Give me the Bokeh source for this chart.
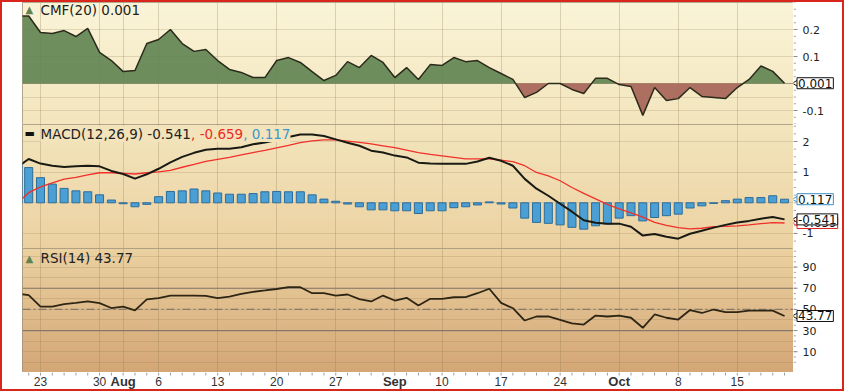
import numpy as np
from bokeh.plotting import figure
from bokeh.layouts import column, row
from bokeh.models import Range1d, FixedTicker, Label, Span, ColumnDataSource
from bokeh.core.properties import value
from bokeh.embed import file_html
from bokeh.resources import INLINE

# ---------------- data ----------------
dates = [
    "2018-07-19", "2018-07-20",
    "2018-07-23", "2018-07-24", "2018-07-25", "2018-07-26", "2018-07-27",
    "2018-07-30", "2018-07-31", "2018-08-01", "2018-08-02", "2018-08-03",
    "2018-08-06", "2018-08-07", "2018-08-08", "2018-08-09", "2018-08-10",
    "2018-08-13", "2018-08-14", "2018-08-15", "2018-08-16", "2018-08-17",
    "2018-08-20", "2018-08-21", "2018-08-22", "2018-08-23", "2018-08-24",
    "2018-08-27", "2018-08-28", "2018-08-29", "2018-08-30", "2018-08-31",
    "2018-09-04", "2018-09-05", "2018-09-06", "2018-09-07",
    "2018-09-10", "2018-09-11", "2018-09-12", "2018-09-13", "2018-09-14",
    "2018-09-17", "2018-09-18", "2018-09-19", "2018-09-20", "2018-09-21",
    "2018-09-24", "2018-09-25", "2018-09-26", "2018-09-27", "2018-09-28",
    "2018-10-01", "2018-10-02", "2018-10-03", "2018-10-04", "2018-10-05",
    "2018-10-08", "2018-10-09", "2018-10-10", "2018-10-11", "2018-10-12",
    "2018-10-15", "2018-10-16", "2018-10-17", "2018-10-18", "2018-10-19",
]

cmf = [0.25, 0.25, 0.189, 0.185, 0.196, 0.174, 0.204, 0.115, 0.085, 0.044,
       0.048, 0.148, 0.163, 0.200, 0.148, 0.119, 0.126, 0.085, 0.052, 0.041,
       0.022, 0.022, 0.085, 0.096, 0.078, 0.044, 0.011, 0.030, 0.081, 0.059,
       0.104, 0.078, 0.022, 0.059, 0.015, 0.070, 0.067, 0.096, 0.081, 0.085,
       0.059, 0.037, 0.015, -0.052, -0.033, 0.000, 0.000, -0.022, -0.037, 0.019,
       0.019, -0.004, -0.011, -0.118, -0.015, -0.063, -0.056, -0.015, -0.048, -0.052,
       -0.056, -0.015, 0.015, 0.065, 0.045, 0.001]

macd = [1.15, 1.43, 1.28, 1.21, 1.17, 1.19, 1.21, 1.19, 1.04, 0.94,
        0.79, 0.93, 1.11, 1.32, 1.50, 1.63, 1.73, 1.76, 1.76, 1.81,
        1.91, 1.97, 2.05, 2.15, 2.23, 2.23, 2.18, 2.07, 1.96, 1.86,
        1.70, 1.64, 1.54, 1.48, 1.31, 1.28, 1.27, 1.27, 1.27, 1.35,
        1.47, 1.37, 1.21, 0.78, 0.46, 0.23, -0.03, -0.29, -0.57, -0.65,
        -0.68, -0.68, -0.78, -1.07, -1.02, -1.11, -1.17, -1.01, -0.91, -0.81,
        -0.72, -0.64, -0.59, -0.52, -0.46, -0.541]

signal = [-0.02, 0.33, 0.52, 0.65, 0.77, 0.83, 0.91, 0.98, 0.98, 0.96,
          0.94, 0.98, 1.01, 1.06, 1.16, 1.25, 1.35, 1.42, 1.48, 1.56,
          1.64, 1.71, 1.79, 1.87, 1.96, 2.02, 2.05, 2.05, 2.01, 1.97,
          1.92, 1.86, 1.80, 1.72, 1.64, 1.58, 1.53, 1.48, 1.43, 1.43,
          1.43, 1.39, 1.34, 1.21, 0.99, 0.88, 0.72, 0.50, 0.31, 0.13,
          -0.05, -0.20, -0.33, -0.47, -0.64, -0.74, -0.81, -0.85, -0.83, -0.78,
          -0.77, -0.75, -0.72, -0.68, -0.65, -0.659]

hist = [1.30, 1.15, 0.82, 0.61, 0.47, 0.39, 0.36, 0.26, 0.09, -0.03,
        -0.13, -0.05, 0.20, 0.37, 0.39, 0.45, 0.39, 0.32, 0.28, 0.28,
        0.30, 0.36, 0.37, 0.36, 0.36, 0.26, 0.12, 0.05, -0.04, -0.13,
        -0.23, -0.23, -0.26, -0.26, -0.35, -0.26, -0.26, -0.16, -0.13, -0.07,
        0.03, -0.04, -0.17, -0.50, -0.64, -0.67, -0.72, -0.80, -0.86, -0.75,
        -0.69, -0.50, -0.42, -0.59, -0.48, -0.42, -0.37, -0.17, -0.10, -0.02,
        0.07, 0.12, 0.17, 0.17, 0.23, 0.117]

rsi = [65.0, 63.5, 52.7, 52.7, 55.0, 56.2, 57.5, 55.9, 51.3, 52.7,
       49.0, 59.4, 60.7, 63.1, 63.1, 63.1, 62.7, 60.6, 62.0, 64.6,
       66.6, 67.9, 69.3, 71.0, 71.0, 65.3, 65.3, 63.1, 64.1, 59.8,
       57.5, 63.1, 58.4, 61.0, 53.7, 60.0, 60.0, 61.5, 61.7, 65.3,
       69.5, 56.2, 51.1, 39.5, 43.3, 43.3, 40.0, 36.7, 35.7, 44.2,
       43.3, 44.2, 42.1, 32.6, 45.2, 42.1, 40.4, 49.4, 46.6, 49.9,
       47.4, 47.4, 48.9, 48.9, 48.9, 43.77]

tick_dates = ["2018-07-23", "2018-07-30", "2018-08-01", "2018-08-06", "2018-08-13",
              "2018-08-20", "2018-08-27", "2018-09-04", "2018-09-10", "2018-09-17",
              "2018-09-24", "2018-10-01", "2018-10-08", "2018-10-15"]
tick_labels = ["23", "30", "Aug", "6", "13", "20", "27", "Sep", "10", "17",
               "24", "Oct", "8", "15"]
month_names = ["Aug", "Sep", "Oct"]

cmf_ticks = [-0.1, 0.1, 0.2]
macd_ticks = [-1, 1, 2]
rsi_ticks = [10, 30, 50, 70, 90]

cmf_title = "CMF(20) 0.001"
macd_title = ["MACD(12,26,9) -0.541", ", -0.659", ", 0.117"]
rsi_title = "RSI(14) 43.77"

# ---------------- geometry (pixels of the reference) ----------------
W = 840
BORDER = 2
FL, FR = 20, 49            # left margin, right axis strip width
DAY_PX = 11.81
X_ANCHOR_PX = 40.0         # pixel of 2018-07-23
ANCHOR_IDX = dates.index("2018-07-23")


def px2x(px):
    return ANCHOR_IDX + (px - X_ANCHOR_PX) / DAY_PX


x = np.arange(len(dates), dtype=float)
xr = Range1d(px2x(BORDER + FL), px2x(BORDER + W - FR))

H_CMF, H_MACD, H_RSI, H_STRIP = 122, 124, 124, 17
T_CMF = BORDER
T_MACD = T_CMF + H_CMF
T_RSI = T_MACD + H_MACD


def yrange(top, h, ref_px, ref_val, px_per_unit):
    end = ref_val + (ref_px - top) / px_per_unit
    start = ref_val - (top + h - ref_px) / px_per_unit
    return start, end


yr_cmf = yrange(T_CMF, H_CMF, 83.0, 0.0, 270.0)
yr_macd = yrange(T_MACD, H_MACD, 202.3, 0.0, 30.65)
yr_rsi = yrange(T_RSI, H_RSI, 308.9, 50.0, 1.0575)


def py(top, h, yr, px):
    return yr[1] - (px - top) / h * (yr[1] - yr[0])


# background gradient stops (absolute y px -> rgb)
stops_y = [2, 124, 248, 372]
stops_c = [(250, 244, 216), (243, 229, 189), (235, 209, 161), (212, 166, 118)]


def color_at(y):
    return tuple(int(round(np.interp(y, stops_y, [c[k] for c in stops_c]))) for k in range(3))


def hexc(c):
    return "#%02x%02x%02x" % c


def gradient(top, h):
    img = np.empty((h, 4), dtype=np.uint32)
    v = img.view(dtype=np.uint8).reshape((h, 4, 4))
    for r in range(h):
        c = color_at(top + h - 0.5 - r)
        v[r, :, 0] = c[0]
        v[r, :, 1] = c[1]
        v[r, :, 2] = c[2]
        v[r, :, 3] = 255
    return img


tick_x = [dates.index(d) for d in tick_dates]

GRID = "#8a7550"
FONT = "DejaVu Sans"


def panel(h, yr, top):
    p = figure(width=W - FR, height=h, x_range=xr, y_range=Range1d(*yr),
               output_backend="svg", toolbar_location=None,
               x_axis_location=None, y_axis_location=None,
               min_border_left=FL, min_border_right=0,
               min_border_top=0, min_border_bottom=0,
               border_fill_color="white", outline_line_color="#9c9078",
               outline_line_width=1)
    p.image_rgba(image=[gradient(top, h)], x=xr.start, y=yr[0],
                 dw=xr.end - xr.start, dh=yr[1] - yr[0], level="image")
    p.xgrid.ticker = FixedTicker(ticks=tick_x)
    p.xgrid.grid_line_color = GRID
    p.xgrid.grid_line_alpha = 0.28
    p.ygrid.grid_line_color = GRID
    p.ygrid.grid_line_alpha = 0.22
    return p


def axis_strip(h, yr, major, minor, boxes):
    """Right-hand value axis with the last-value call-out boxes."""
    r = figure(width=FR, height=h, x_range=Range1d(0, FR), y_range=Range1d(*yr),
               output_backend="svg", toolbar_location=None,
               x_axis_location=None, y_axis_location=None,
               min_border_left=0, min_border_right=0,
               min_border_top=0, min_border_bottom=0,
               border_fill_color="white", background_fill_color="white",
               outline_line_color=None)
    r.grid.visible = False
    r.segment(x0=0, y0=minor, x1=2.5, y1=minor, line_color="#a8a8a8", line_width=1)
    r.segment(x0=0, y0=major, x1=4, y1=major, line_color="#8c8c8c", line_width=1)
    r.text(x=9, y=major, text=[("%g" % t) for t in major], text_align="left",
           text_baseline="middle", text_font=value(FONT), text_font_size="11px",
           text_color="#222222")
    for yval, text, border in boxes:
        r.scatter(x=[4], y=[yval], marker="triangle", angle=np.pi / 2, size=9,
                  fill_color="white", line_color=border, line_width=1)
        r.add_layout(Label(x=3.5, y=yval, text=text,
                           text_font=FONT, text_font_size="12px", text_color="#111111",
                           text_baseline="middle", text_align="left",
                           background_fill_color="white", border_line_color=border,
                           border_line_width=1, padding=1))
    return r


def title(p, top, h, yr, px_x, px_y, text, color="#222222", bg=True):
    lab = Label(x=px2x(px_x), y=py(top, h, yr, px_y), text=text,
                text_font=FONT, text_font_size="13.5px", text_color=color,
                text_baseline="middle", text_align="left")
    if bg:
        lab.background_fill_color = hexc(color_at(px_y))
    p.add_layout(lab)


# ---------------- CMF panel ----------------
p1 = panel(H_CMF, yr_cmf, T_CMF)
p1.ygrid.ticker = FixedTicker(ticks=[-0.1, -0.05, 0.1, 0.2])

xs, ys = [x[0]], [cmf[0]]
for k in range(1, len(cmf)):
    a, b = cmf[k - 1], cmf[k]
    if a * b < 0:
        xs.append(x[k - 1] + a / (a - b))
        ys.append(0.0)
    xs.append(x[k])
    ys.append(b)
ys = np.array(ys)
fill_src = ColumnDataSource(dict(x=xs, pos=np.maximum(ys, 0), neg=np.minimum(ys, 0),
                                 zero=np.zeros(len(xs))))
p1.varea(x="x", y1="zero", y2="pos", source=fill_src, fill_color="#5f8351", fill_alpha=0.9)
p1.varea(x="x", y1="zero", y2="neg", source=fill_src, fill_color="#a46255", fill_alpha=0.9)
p1.add_layout(Span(location=0, dimension="width", line_color="#a89878", line_width=1,
                   level="underlay"))
p1.line(x, cmf, line_color="#2b2b1c", line_width=1.5)
p1.add_layout(Label(x=px2x(25), y=py(T_CMF, H_CMF, yr_cmf, 9), text="▲",
                    text_font=FONT, text_font_size="10px", text_color="#5f8351",
                    text_baseline="middle"))
title(p1, T_CMF, H_CMF, yr_cmf, 40, 9, cmf_title, bg=False)
r1 = axis_strip(H_CMF, yr_cmf, cmf_ticks,
                [round(-0.15 + 0.025 * k, 3) for k in range(19)],
                [(cmf[-1], "0.001", "#111111")])

# ---------------- MACD panel ----------------
p2 = panel(H_MACD, yr_macd, T_MACD)
p2.ygrid.ticker = FixedTicker(ticks=[-1, 0, 1, 2])
p2.vbar(x=x, top=hist, bottom=0, width=0.68, fill_color="#4a9fd5",
        line_color="#2e6d9a", line_width=1)
p2.line(x, signal, line_color="#f0302a", line_width=1.3)
p2.line(x, macd, line_color="#1a1a14", line_width=2)
p2.add_layout(Label(x=px2x(24), y=py(T_MACD, H_MACD, yr_macd, 133), text="▬",
                    text_font=FONT, text_font_size="11px", text_color="#111111",
                    text_baseline="middle"))
title(p2, T_MACD, H_MACD, yr_macd, 40, 133.5, macd_title[0])
title(p2, T_MACD, H_MACD, yr_macd, 190.6, 133.5, macd_title[1], color="#ee2a22")
title(p2, T_MACD, H_MACD, yr_macd, 242.7, 133.5, macd_title[2], color="#3a98d2")
r2 = axis_strip(H_MACD, yr_macd, macd_ticks,
                [round(-1.5 + 0.25 * k, 2) for k in range(17)],
                [(hist[-1], "0.117", "#3a8fc4"),
                 (signal[-1], "-0.659", "#e02020"),
                 (macd[-1], "-0.541", "#111111")])

# ---------------- RSI panel ----------------
p3 = panel(H_RSI, yr_rsi, T_RSI)
p3.ygrid.ticker = FixedTicker(ticks=list(range(0, 101, 10)))
for lvl, dash in ((70, "solid"), (30, "solid"), (50, "8 3 2 3")):
    p3.add_layout(Span(location=lvl, dimension="width", line_color="#85796a",
                       line_width=1.2, line_dash=dash, level="underlay"))
p3.line(x, rsi, line_color="#2e2614", line_width=1.8)
p3.add_layout(Label(x=px2x(25), y=py(T_RSI, H_RSI, yr_rsi, 257.5), text="▲",
                    text_font=FONT, text_font_size="10px", text_color="#5f8351",
                    text_baseline="middle"))
title(p3, T_RSI, H_RSI, yr_rsi, 40, 257.5, rsi_title, bg=False)
r3 = axis_strip(H_RSI, yr_rsi, rsi_ticks, list(range(0, 106, 5)),
                [(rsi[-1], "43.77", "#111111")])

# ---------------- date strip ----------------
p4 = figure(width=W, height=H_STRIP, x_range=xr, y_range=Range1d(0, H_STRIP),
            output_backend="svg", toolbar_location=None,
            x_axis_location=None, y_axis_location=None,
            min_border_left=FL, min_border_right=FR,
            min_border_top=0, min_border_bottom=0,
            border_fill_color="white", background_fill_color="white",
            outline_line_color=None)
p4.grid.visible = False
p4.segment(x0=x, y0=H_STRIP, x1=x, y1=H_STRIP - 3, line_color="#9a9a9a", line_width=1)
norm = [(tx, tl) for tx, tl in zip(tick_x, tick_labels) if tl not in month_names]
mons = [(tx, tl) for tx, tl in zip(tick_x, tick_labels) if tl in month_names]
p4.text(x=[t[0] for t in norm], y=8, text=[t[1] for t in norm], text_align="center",
        text_baseline="middle", text_font=value("Liberation Sans"),
        text_font_size="12px", text_color="#333333")
p4.text(x=[t[0] for t in mons], y=8, text=[t[1] for t in mons], text_align="center",
        text_baseline="middle", text_font=value("Liberation Sans"),
        text_font_style="bold", text_font_size="13px", text_color="#333333")

layout = column(row(p1, r1, spacing=0), row(p2, r2, spacing=0),
                row(p3, r3, spacing=0), p4, spacing=0,
                styles={"border": "2px solid #d8261c"})

open("out.html", "w").write(file_html(layout, INLINE))
